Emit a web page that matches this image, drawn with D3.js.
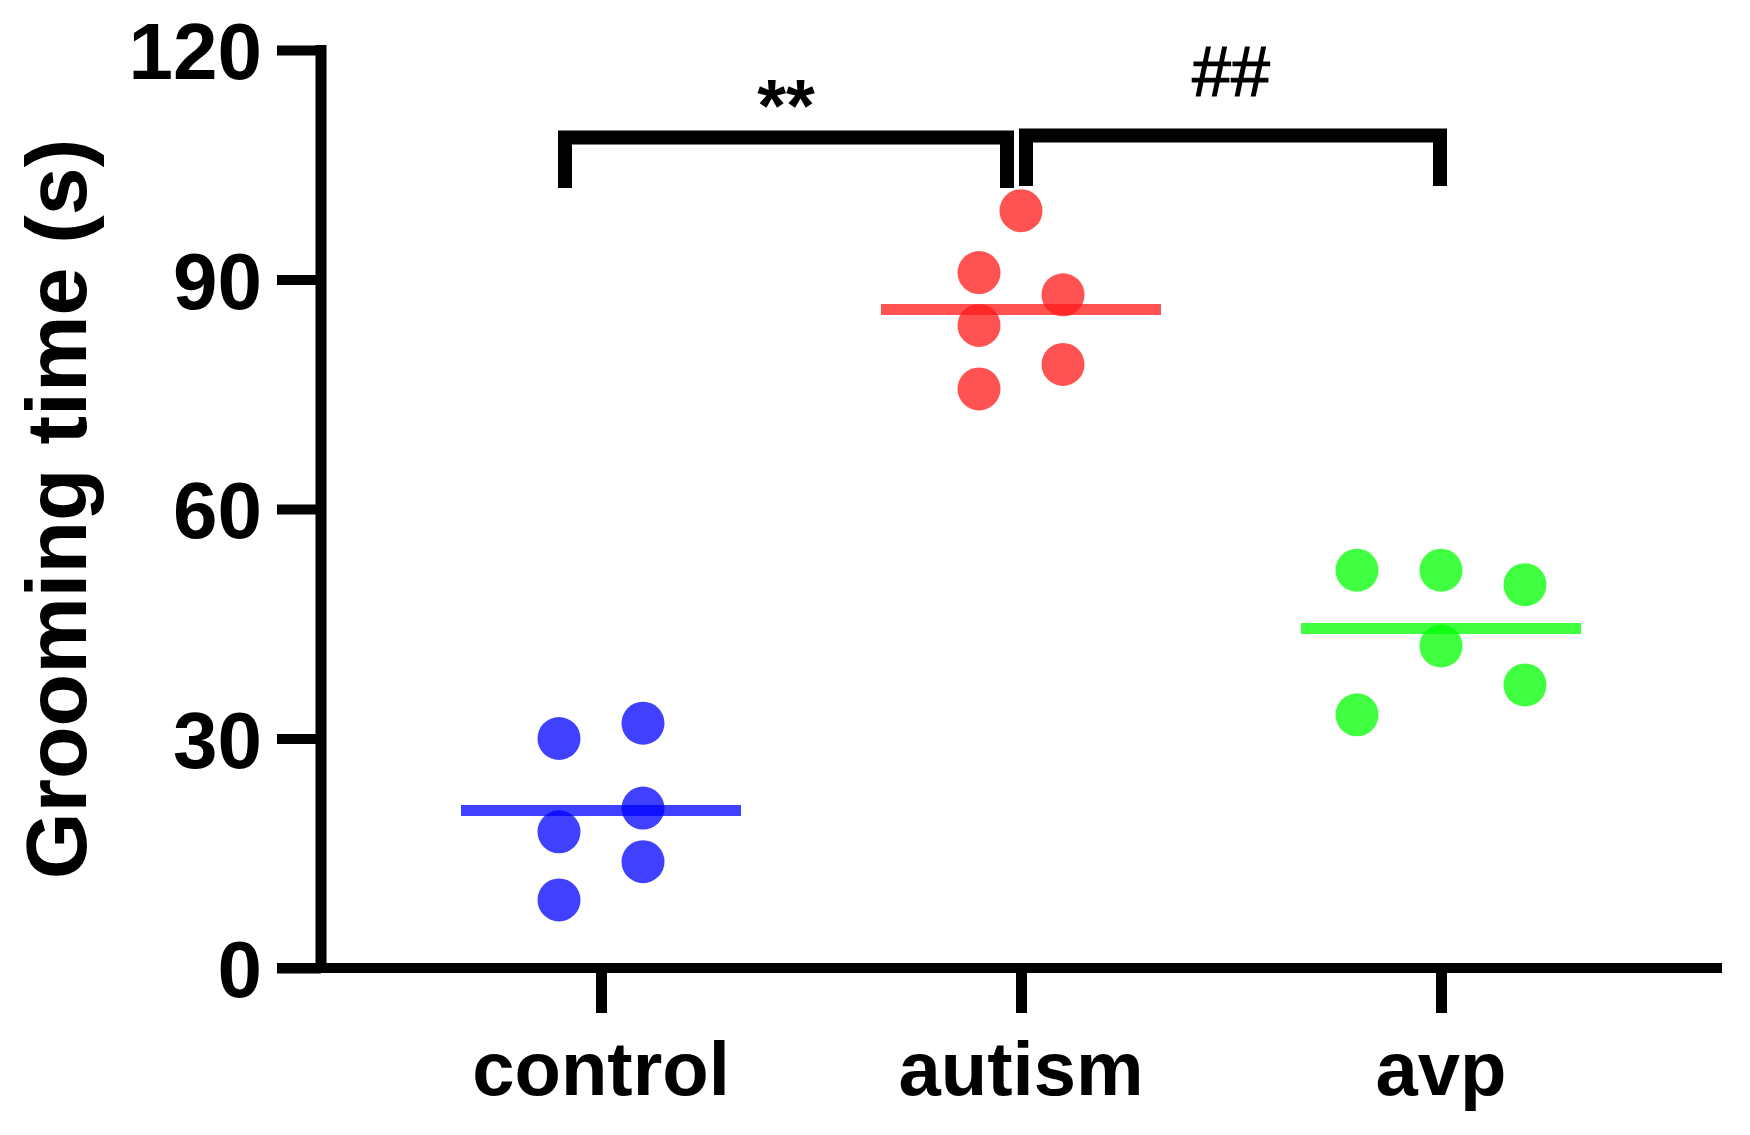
<!DOCTYPE html>
<head>
  <meta charset="utf-8">
  <script src="https://d3js.org/d3.v7.min.js"></script>
  <style>
    body{ margin: 0; background: #ffffff; }
    text{ font-family: "Liberation Sans", Arial, sans-serif; fill: #000000; }
    text.tickLabel{
      font-family: "Liberation Sans Narrow", "Arial Narrow", "Liberation Sans", sans-serif;
      font-weight: 700;
      font-size: 80px;
    }
    text.catLabel{ font-weight: 700; font-size: 76px; }
    text.yTitle{ font-weight: 700; font-size: 86px; }
    text.star{ font-weight: 700; font-size: 74px; }
    text.hash{ font-weight: 400; font-size: 70px; stroke: #000; stroke-width: 1.2px; }
  </style>
</head>

<body>
  <script>
    // data
    const groups = ['control', 'autism', 'avp'];
    const colours = ['#0000ff', '#ff1a1a', '#00ff00'];
    const controlValues = [30.0, 32.0, 20.9, 17.8, 13.9, 8.9];
    const autismValues = [99.0, 90.9, 88.0, 84.0, 78.9, 75.7];
    const avpValues = [52.0, 52.0, 50.1, 42.1, 37.0, 33.1];
    // scatter column of each point (GraphPad spread)
    const controlSlots = [-1, 1, 1, -1, 1, -1];
    const autismSlots = [0, -1, 1, -1, 1, -1];
    const avpSlots = [-2, 0, 2, 0, 2, -2];
    const yTicks = [0, 30, 60, 90, 120];
    const comparisons = [
      {from: 'control', to: 'autism', label: '**'},
      {from: 'autism', to: 'avp', label: '##'}
    ];

    var width = 1750;
    var height = 1135;

    var svg = d3.select('body').append('svg')
      .attr('width', width)
      .attr('height', height);

    let series = [controlValues, autismValues, avpValues].map((vals, i) => ({
      group: groups[i],
      colour: colours[i],
      mean: d3.mean(vals),
      points: vals.map((v, j) => ({
        group: groups[i],
        value: v,
        slot: [controlSlots, autismSlots, avpSlots][i][j]
      }))
    }));

    let x = d3.scalePoint()
      .domain(groups)
      .range([601, 1441]);

    let y = d3.scaleLinear()
      .domain([0, 120])
      .range([968, 50]);

    let spread = d3.scaleLinear()
      .domain([-1, 1])
      .range([-42, 42]);

    // y axis
    let yAxis = d3.axisLeft(y)
      .tickValues(yTicks)
      .tickSize(44)
      .tickPadding(15)
      .tickSizeOuter(0);

    let yG = svg.append('g')
      .attr('transform', 'translate(321,0)')
      .call(yAxis);
    yG.attr('font-size', null).attr('font-family', null);
    yG.select('.domain')
      .attr('stroke', '#000')
      .attr('stroke-width', 11)
      .attr('d', `M0,${y(120) - 5}V${y(0) + 5}`);
    yG.selectAll('.tick line').attr('stroke', '#000').attr('stroke-width', 10);
    yG.selectAll('.tick text')
      .attr('class', 'tickLabel')
      .attr('dy', '0.36em')
      .attr('x', -59);

    // x axis
    let xAxis = d3.axisBottom(x)
      .tickSize(45)
      .tickSizeOuter(0)
      .tickFormat(() => '');

    let xG = svg.append('g')
      .attr('transform', 'translate(0,968)')
      .call(xAxis);
    xG.select('.domain')
      .attr('stroke', '#000')
      .attr('stroke-width', 10)
      .attr('d', 'M277,0H1722');
    xG.selectAll('.tick line').attr('stroke', '#000').attr('stroke-width', 11);

    svg.selectAll('text.catLabel')
      .data(groups)
      .enter()
      .append('text')
      .attr('class', 'catLabel')
      .attr('x', d => x(d))
      .attr('y', 1095)
      .attr('text-anchor', 'middle')
      .text(d => d);

    // y title
    svg.append('text')
      .attr('class', 'yTitle')
      .attr('transform', `translate(86,${(y(0) + y(120)) / 2}) rotate(-90)`)
      .attr('text-anchor', 'middle')
      .text('Grooming time (s)');

    // mean lines
    svg.selectAll('line.mean')
      .data(series)
      .enter()
      .append('line')
      .attr('class', 'mean')
      .attr('x1', d => x(d.group) - 140)
      .attr('x2', d => x(d.group) + 140)
      .attr('y1', d => y(d.mean))
      .attr('y2', d => y(d.mean))
      .attr('stroke', d => d.colour)
      .attr('stroke-width', 11)
      .attr('stroke-opacity', 0.75);

    // dots
    svg.selectAll('circle.dot')
      .data(series.flatMap(s => s.points.map(p => Object.assign({colour: s.colour}, p))))
      .enter()
      .append('circle')
      .attr('class', 'dot')
      .attr('cx', d => x(d.group) + spread(d.slot))
      .attr('cy', d => y(d.value))
      .attr('r', 21.5)
      .attr('fill', d => d.colour)
      .attr('fill-opacity', 0.75);

    // significance brackets
    let bracketTop = [137.5, 135.5];
    let legEnd = [188, 186];
    let shift = [[-36, -14], [5, -1]];

    comparisons.forEach((c, i) => {
      let x1 = x(c.from) + shift[i][0];
      let x2 = x(c.to) + shift[i][1];
      svg.append('path')
        .attr('d', `M${x1},${legEnd[i]}V${bracketTop[i]}H${x2}V${legEnd[i]}`)
        .attr('fill', 'none')
        .attr('stroke', '#000')
        .attr('stroke-width', 14)
        .attr('stroke-linejoin', 'miter');
    });

    svg.append('text')
      .attr('class', 'star')
      .attr('x', 786)
      .attr('y', 131)
      .attr('text-anchor', 'middle')
      .text(comparisons[0].label);

    svg.append('text')
      .attr('class', 'hash')
      .attr('x', 1231)
      .attr('y', 96)
      .attr('text-anchor', 'middle')
      .text(comparisons[1].label);
  </script>
</body>
